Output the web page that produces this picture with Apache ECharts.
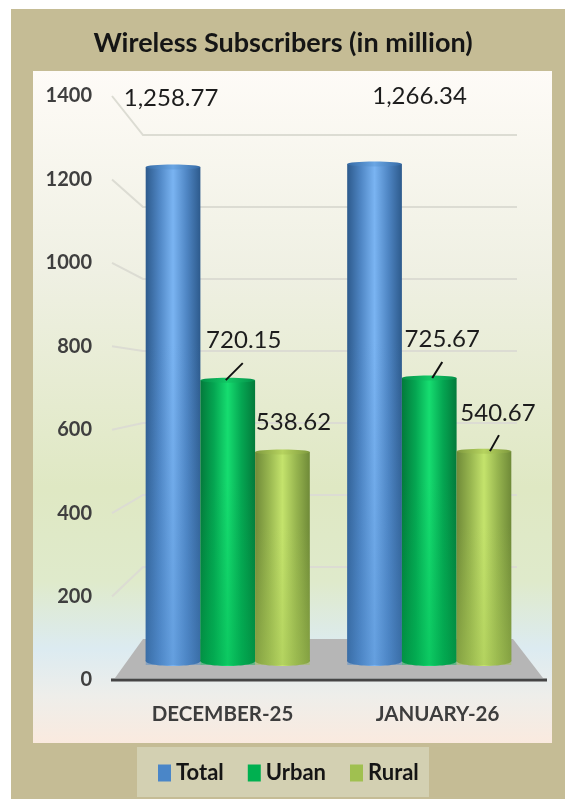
<!DOCTYPE html>
<html>
<head>
<meta charset="utf-8">
<style>html,body{margin:0;padding:0;background:#fff}#chart{width:565px;height:799px}</style>
<script src="https://cdn.jsdelivr.net/npm/echarts@6/dist/echarts.min.js"></script>
</head>
<body>
<div id="chart"></div>
<script>
const categories = ['DECEMBER-25', 'JANUARY-26'];
const total = [1258.77, 1266.34];
const urban = [720.15, 725.67];
const rural = [538.62, 540.67];
const ticks = [200, 400, 600, 800, 1000, 1200, 1400];

const FONT = 'Lato, "Open Sans", sans-serif';
const chart = echarts.init(document.getElementById('chart'));

function hGrad(stops) {
  return new echarts.graphic.LinearGradient(0, 0, 1, 0, stops.map((c, i) => ({
    offset: i / (stops.length - 1), color: c
  })));
}

// label offsets from the bar top centre, [dx, dy], and the leader line when there is one
function barSeries(name, values, slot, legendColor, bodyColors, capColors, labelPos, leaders) {
  return {
    name: name,
    type: 'custom',
    xAxisIndex: 1,
    yAxisIndex: 1,
    z: 3,
    clip: false,
    itemStyle: { color: legendColor },
    data: values.map((v, i) => [i, v]),
    encode: { x: 0, y: 1 },
    renderItem: function (params, api) {
      const i = api.value(0);
      const v = api.value(1);
      const w = api.size([1, 0])[0] * 0.2715;
      const base = api.coord([i, 0]);
      const top = api.coord([i, v]);
      const cx = base[0] + (slot - 1) * w;
      const rx = w / 2;
      const foot = base[1] - 4;
      const children = [
        { type: 'ellipse', shape: { cx: cx, cy: foot, rx: rx, ry: 5 }, style: { fill: hGrad(bodyColors) } },
        { type: 'rect', shape: { x: cx - rx, y: top[1], width: w, height: foot - top[1] }, style: { fill: hGrad(bodyColors) } },
        // the sheen fades towards the floor
        {
          type: 'rect',
          shape: { x: cx - rx, y: top[1], width: w, height: foot - top[1] + 4 },
          style: {
            fill: new echarts.graphic.LinearGradient(0, 0, 0, 1, [
              { offset: 0.35, color: echarts.color.modifyAlpha(legendColor, 0) },
              { offset: 1, color: echarts.color.modifyAlpha(legendColor, 0.45) }
            ])
          }
        },
        { type: 'ellipse', shape: { cx: cx, cy: top[1], rx: rx, ry: 2.5 }, style: { fill: hGrad(capColors) } },
        {
          type: 'text',
          z2: 10,
          style: {
            text: v.toLocaleString('en-US', { minimumFractionDigits: 2 }),
            x: cx + labelPos[i][0],
            y: top[1] + labelPos[i][1],
            fill: '#1c1c1c',
            font: '24px ' + FONT,
            align: 'center',
            verticalAlign: 'middle'
          }
        }
      ];
      if (leaders[i]) {
        children.push({
          type: 'line',
          shape: { x1: cx + leaders[i][0], y1: top[1], x2: cx + leaders[i][1], y2: top[1] + leaders[i][2] },
          style: { stroke: '#111', lineWidth: 2 }
        });
      }
      return { type: 'group', children: children };
    }
  };
}

const option = {
  animation: false,
  textStyle: { fontFamily: FONT },
  title: {
    text: 'Wireless Subscribers (in million)',
    left: 278,
    top: 25,
    textAlign: 'center',
    textStyle: { fontFamily: FONT, fontWeight: 'bold', fontSize: 27, color: '#151515' }
  },
  legend: {
    left: 158,
    top: 762,
    padding: 0,
    itemWidth: 13,
    itemHeight: 17,
    itemGap: 24,
    icon: 'rect',
    data: ['Total', 'Urban', 'Rural'],
    textStyle: { fontFamily: FONT, fontWeight: 'bold', fontSize: 22, color: '#151515' }
  },
  graphic: [
    { type: 'rect', z: -10, shape: { x: 11, y: 9, width: 554, height: 790 }, style: { fill: '#c5bc95' } },
    {
      type: 'rect', z: -9, shape: { x: 33, y: 71, width: 519, height: 672 },
      style: {
        fill: new echarts.graphic.LinearGradient(0, 0, 0, 1, [
          { offset: 0, color: '#fefbf7' },
          { offset: 0.3, color: '#eff0e3' },
          { offset: 0.62, color: '#dfe8c3' },
          { offset: 0.76, color: '#dfeacb' },
          { offset: 0.86, color: '#dcebf1' },
          { offset: 0.93, color: '#eeeeea' },
          { offset: 1, color: '#faeadf' }
        ])
      }
    },
    { type: 'rect', z: -9, shape: { x: 137, y: 747, width: 292, height: 50 }, style: { fill: '#d3d0b2' } }
  ],
  grid: [
    { left: 115, top: 96, width: 430, height: 584 },
    { left: 127, top: 111.2, width: 403, height: 553.8 },
    { left: 143, top: 135, width: 374, height: 504 }
  ],
  xAxis: [
    {
      type: 'category', gridIndex: 0, data: categories,
      axisLine: { show: false }, axisTick: { show: false },
      axisLabel: { margin: 24, fontFamily: FONT, fontWeight: 'bold', fontSize: 20.5, color: '#3d3d3d' }
    },
    { type: 'category', gridIndex: 1, data: categories, show: false },
    { type: 'category', gridIndex: 2, data: categories, show: false }
  ],
  yAxis: [
    {
      type: 'value', gridIndex: 0, min: 0, max: 1400, interval: 200,
      axisLine: { show: false }, axisTick: { show: false }, splitLine: { show: false },
      axisLabel: {
        margin: 23, fontFamily: FONT, fontWeight: 'bold', fontSize: 20, color: '#3f3f3f',
        padding: [4, 0, 0, 0],
        formatter: v => String(v)
      }
    },
    { type: 'value', gridIndex: 1, min: 0, max: 1400, show: false, splitLine: { show: false } },
    { type: 'value', gridIndex: 2, min: 0, max: 1400, show: false, splitLine: { show: false } }
  ],
  series: [
    {
      type: 'custom',
      xAxisIndex: 2,
      yAxisIndex: 2,
      z: 1,
      clip: false,
      silent: true,
      data: ticks.map(v => [0, v]),
      encode: { x: 0, y: 1 },
      renderItem: function (params, api) {
        const v = api.value(1);
        const back = api.coord([0, v])[1];
        const front = chart.convertToPixel({ yAxisIndex: 0 }, v);
        return {
          type: 'polyline',
          shape: { points: [[112, front], [params.coordSys.x, back], [params.coordSys.x + params.coordSys.width, back]] },
          style: { stroke: '#dcdcd3', lineWidth: 2, fill: 'none' }
        };
      }
    },
    {
      type: 'custom',
      xAxisIndex: 2,
      yAxisIndex: 2,
      z: 2,
      clip: false,
      silent: true,
      data: [[0, 0]],
      encode: { x: 0, y: 1 },
      renderItem: function (params, api) {
        const back = api.coord([0, 0])[1];
        const front = chart.convertToPixel({ yAxisIndex: 0 }, 0);
        const c = params.coordSys;
        return {
          type: 'group',
          children: [
            {
              type: 'polygon',
              shape: { points: [[c.x, back], [c.x + c.width - 4, back], [543, front - 2], [115, front - 2]] },
              style: { fill: '#b6b6b6' }
            },
            {
              type: 'line',
              shape: { x1: 111, y1: front, x2: 547, y2: front },
              style: { stroke: '#454545', lineWidth: 3 }
            }
          ]
        };
      }
    },
    barSeries('Total', total, 0, '#4a86c8',
      ['#2d5a8c', '#4f86c4', '#7ab4f2', '#4f86c4', '#2d5a8c'],
      ['#356aa5', '#6aa6e4', '#356aa5'],
      [[-2, -69], [45, -68]], [null, null]),
    barSeries('Urban', urban, 1, '#00b050',
      ['#037a3b', '#05a652', '#16dd70', '#05a652', '#037a3b'],
      ['#039049', '#12c965', '#039049'],
      [[16, -40], [13, -39]], [[-2, 15, -17], [3, 13, -16]]),
    barSeries('Rural', rural, 2, '#a0c050',
      ['#6f8a38', '#97b54f', '#c4e36c', '#97b54f', '#6f8a38'],
      ['#7f9a3e', '#b6d35f', '#7f9a3e'],
      [[11, -30], [14, -38]], [null, [6, 15, -16]])
  ]
};
chart.setOption(option);
</script>
</body>
</html>
